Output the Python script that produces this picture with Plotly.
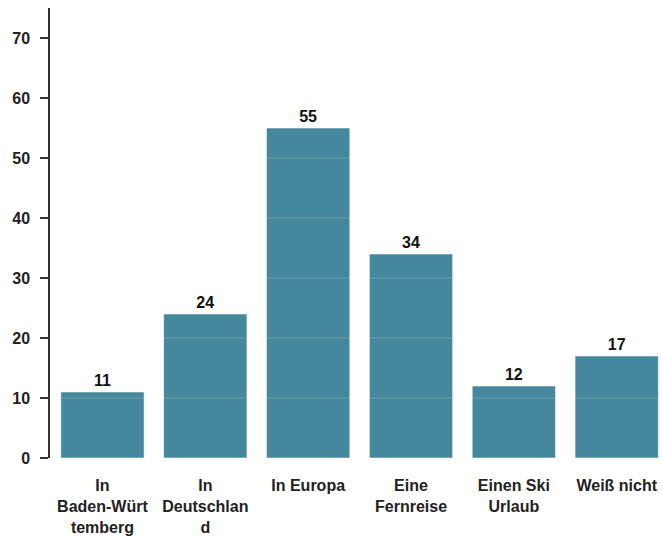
import plotly.graph_objects as go

categories = ["In<br>Baden-Würt<br>temberg", "In<br>Deutschlan<br>d", "In Europa",
              "Eine<br>Fernreise", "Einen Ski<br>Urlaub", "Weiß nicht"]
values = [11, 24, 55, 34, 12, 17]
y_ticks = [0, 10, 20, 30, 40, 50, 60, 70]

BAR = "#45879c"
FONT = "Liberation Sans, Arial, sans-serif"

fig = go.Figure()
fig.add_trace(go.Bar(
    x=categories, y=values,
    marker=dict(color=BAR, line=dict(color="rgba(255,255,255,0.55)", width=1)),
    text=[str(v) for v in values], textposition="outside",
    textfont=dict(family=FONT, size=16, color="#111", weight="bold"),
    cliponaxis=False, width=0.81,
))

for t in y_ticks[1:]:
    fig.add_shape(type="line", xref="paper", yref="y", x0=0, x1=1, y0=t, y1=t,
                  line=dict(color="rgba(255,255,255,0.2)", width=1), layer="above")

fig.update_layout(
    width=663, height=536,
    margin=dict(l=50, r=0, t=8, b=78),
    paper_bgcolor="white", plot_bgcolor="white",
    showlegend=False,
    font=dict(family=FONT, size=14, color="#222"),
    xaxis=dict(range=[-0.51, 5.45], showline=False, showgrid=False, ticks="",
               tickfont=dict(family=FONT, size=16, color="#222", weight="bold"),
               ticklabelstandoff=16, tickangle=0),
    yaxis=dict(range=[0, 75], tickvals=y_ticks, showgrid=False, zeroline=False,
               showline=True, linecolor="#333", linewidth=1.5,
               ticks="outside", ticklen=8, tickcolor="#333", tickwidth=1.5,
               tickfont=dict(family=FONT, size=16, color="#222", weight="bold"),
               ticklabelstandoff=7),
)

fig.write_html("out.html", config={"displayModeBar": False},
               post_script="document.body.style.margin='0';document.body.style.overflow='hidden';")
